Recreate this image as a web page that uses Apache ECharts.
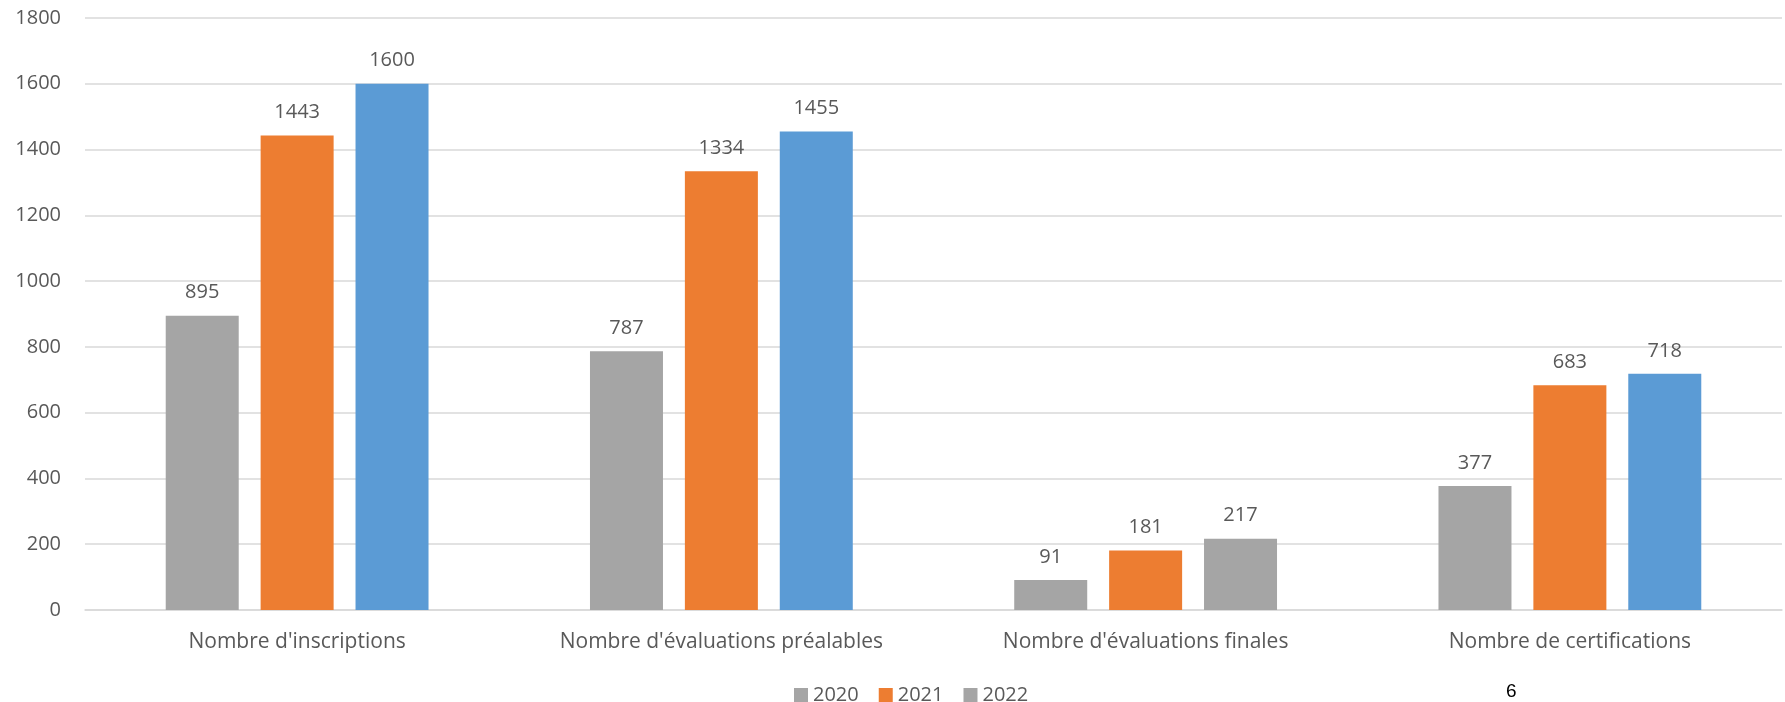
<!DOCTYPE html>
<html>
<head>
<meta charset="utf-8">
<script src="https://cdn.jsdelivr.net/npm/echarts@6/dist/echarts.min.js"></script>
<style>html,body{margin:0;padding:0;background:#fff}#c{width:1785px;height:702px}</style>
</head>
<body>
<div id="c"></div>
<script>
const categories = ["Nombre d'inscriptions", "Nombre d'évaluations préalables", "Nombre d'évaluations finales", "Nombre de certifications"];
const seriesNames = ["2020", "2021", "2022"];
const values2020 = [895, 787, 91, 377];
const values2021 = [1443, 1334, 181, 683];
const values2022 = [1600, 1455, 217, 718];
const yTicks = [0, 200, 400, 600, 800, 1000, 1200, 1400, 1600, 1800];
const pageNumber = "6";

const GREY = '#A5A5A5', ORANGE = '#ED7D31', BLUE = '#5B9BD5';
const colors2022 = [BLUE, BLUE, GREY, BLUE];
const FONT = "'Open Sans', sans-serif";
const TXT = '#595959';
const FS = 20;

const chart = echarts.init(document.getElementById('c'), null, {renderer: 'canvas'});
const labelCfg = {show: true, position: 'top', distance: 13, color: TXT, fontFamily: FONT, fontSize: FS};
chart.setOption({
  animation: false,
  backgroundColor: '#fff',
  grid: {left: 85, right: 3, top: 18, bottom: 92, containLabel: false},
  legend: {
    data: seriesNames, left: 789, top: 680,
    itemWidth: 14, itemHeight: 14, itemGap: 20, icon: 'rect',
    textStyle: {color: TXT, fontFamily: FONT, fontSize: FS}
  },
  xAxis: {
    type: 'category', data: categories,
    axisLine: {lineStyle: {color: '#D9D9D9', width: 1.5}},
    axisTick: {show: false},
    axisLabel: {color: TXT, fontFamily: FONT, fontSize: 21, margin: 22}
  },
  yAxis: {
    type: 'value', min: yTicks[0], max: yTicks[yTicks.length - 1], interval: 200,
    axisLine: {show: false}, axisTick: {show: false},
    splitLine: {lineStyle: {color: '#D9D9D9', width: 1.5}},
    axisLabel: {color: TXT, fontFamily: FONT, fontSize: FS, margin: 24, formatter: v => String(v)}
  },
  series: [
    {name: seriesNames[0], type: 'bar', data: values2020, itemStyle: {color: GREY}, barWidth: 73, barGap: '30%', label: labelCfg},
    {name: seriesNames[1], type: 'bar', data: values2021, itemStyle: {color: ORANGE}, barWidth: 73, barGap: '30%', label: labelCfg},
    {name: seriesNames[2], type: 'bar', data: values2022.map((v, i) => ({value: v, itemStyle: {color: colors2022[i]}})), itemStyle: {color: GREY}, barWidth: 73, barGap: '30%', label: labelCfg}
  ],
  graphic: [{
    type: 'text', left: 1506, top: 682,
    style: {text: pageNumber, fill: '#000', font: "19px 'Liberation Sans', Arial, sans-serif"}
  }]
});
</script>
</body>
</html>
